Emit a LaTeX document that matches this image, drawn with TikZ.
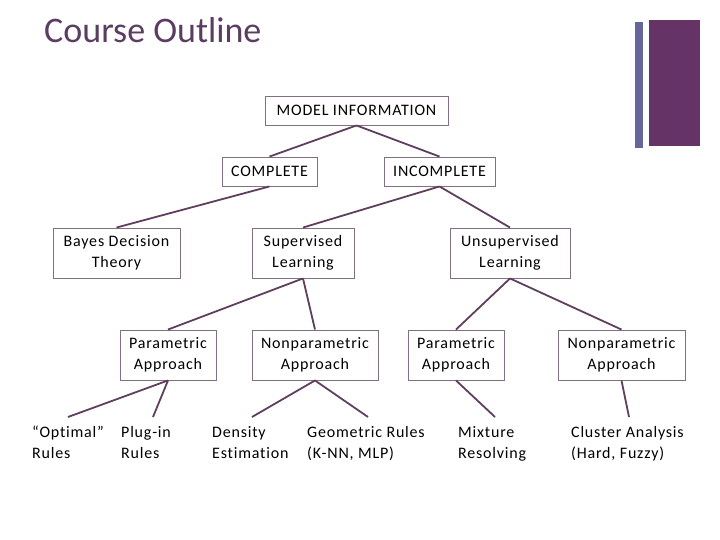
\documentclass[tikz,border=0pt]{standalone}
\usepackage{fontspec}
\setmainfont{Carlito}
\newfontfamily\boxfont{Carlito}[LetterSpace=5, Ligatures=NoCommon, RawFeature={-liga;-clig;-dlig}]
\definecolor{linec}{HTML}{5E3F5E}
\definecolor{boxc}{HTML}{807082}
\definecolor{titlec}{HTML}{5B3D62}
\definecolor{barA}{HTML}{66669A}
\definecolor{barB}{HTML}{663366}
\begin{document}
\begin{tikzpicture}[x=1pt,y=-1pt,
  box/.style={draw=boxc, line width=0.9pt, inner sep=0pt, align=center, font=\boxfont\fontsize{16}{21}\selectfont},
  leaf/.style={align=left, inner sep=0pt, anchor=base west, font=\boxfont\fontsize{16}{20.5}\selectfont},
  conn/.style={draw=linec, line width=1.8pt}]
\useasboundingbox (0,0) rectangle (720,540);
% title and bars
\node[anchor=base west, inner sep=0pt, text=titlec, font=\fontsize{36}{40}\selectfont] (title) at (44,43) {Course Outline};
\fill[barA] (635,22) rectangle (643,148);
\fill[barB] (649,20) rectangle (700,146);
% boxes
\node[box, minimum width=183pt, minimum height=29pt] (model) at (356.5,110.5) {MODEL INFORMATION};
\node[box, minimum width=95pt, minimum height=29pt] (comp) at (269.5,171.5) {COMPLETE};
\node[box, minimum width=111pt, minimum height=29pt] (incomp) at (439.5,171.5) {INCOMPLETE};
\node[box, minimum width=127pt, minimum height=50pt] (bayes) at (116.5,253) {Bayes Decision\\Theory};
\node[box, minimum width=102pt, minimum height=50pt] (sup) at (303,253) {Supervised\\Learning};
\node[box, minimum width=120pt, minimum height=50pt] (unsup) at (510,253) {Unsupervised\\Learning};
\node[box, minimum width=96pt, minimum height=50pt] (paraL) at (168,355) {Parametric\\Approach};
\node[box, minimum width=126pt, minimum height=50pt] (nonpL) at (315,355) {Nonparametric\\Approach};
\node[box, minimum width=96pt, minimum height=50pt] (paraR) at (456,355) {Parametric\\Approach};
\node[box, minimum width=127pt, minimum height=50pt] (nonpR) at (621.5,355) {Nonparametric\\Approach};
% leaves
\node[leaf] (opt) at (32,458) {“Optimal”\\Rules};
\node[leaf] (plug) at (121,458) {Plug-in\\Rules};
\node[leaf] (dens) at (212,458) {Density\\Estimation};
\node[leaf] (geom) at (307,458) {Geometric Rules\\(K-NN, MLP)};
\node[leaf] (mix) at (458,458) {Mixture\\Resolving};
\node[leaf] (clus) at (571,458) {Cluster Analysis\\(Hard, Fuzzy)};
\coordinate (optE) at (68,417);
\coordinate (plugE) at (153,417);
\coordinate (densE) at (252,417);
\coordinate (geomE) at (368,417);
\coordinate (mixE) at (495,417);
\coordinate (clusE) at (629,417);
% connectors
\draw[conn] (model.south) -- (comp.north);
\draw[conn] (model.south) -- (incomp.north);
\draw[conn] (comp.south) -- (bayes.north);
\draw[conn] (incomp.south) -- (sup.north);
\draw[conn] (incomp.south) -- (unsup.north);
\draw[conn] (sup.south) -- (paraL.north);
\draw[conn] (sup.south) -- (nonpL.north);
\draw[conn] (unsup.south) -- (paraR.north);
\draw[conn] (unsup.south) -- (nonpR.north);
\draw[conn] (paraL.south) -- (optE);
\draw[conn] (paraL.south) -- (plugE);
\draw[conn] (nonpL.south) -- (densE);
\draw[conn] (nonpL.south) -- (geomE);
\draw[conn] (paraR.south) -- (mixE);
\draw[conn] (nonpR.south) -- (clusE);
\end{tikzpicture}
\end{document}
